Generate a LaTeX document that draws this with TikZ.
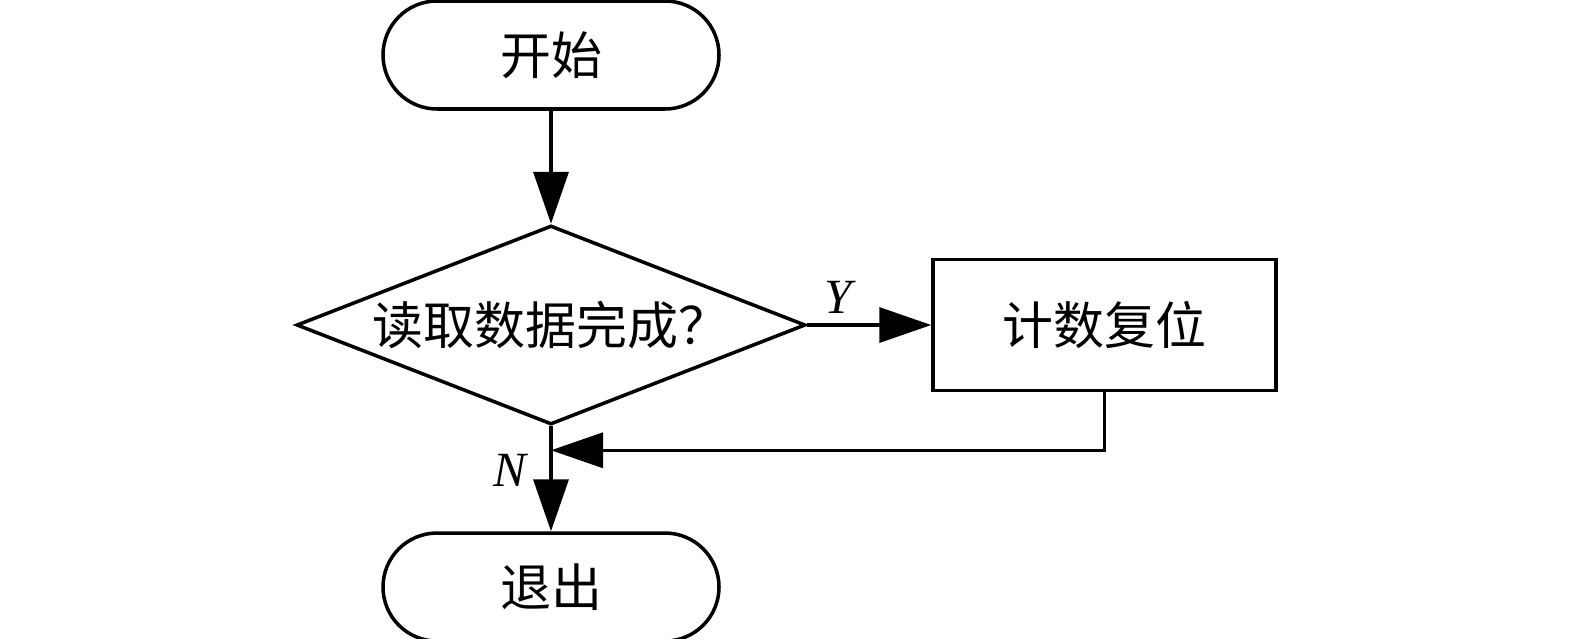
\documentclass[tikz,border=0pt]{standalone}
\usepackage{fontspec}
\setmainfont{Liberation Serif}
\newfontfamily\cjk{Noto Sans CJK SC}
\usepackage{tikz}
\usetikzlibrary{positioning,arrows.meta,shapes.geometric}

\begin{document}
\begin{tikzpicture}[
line width=2pt,
font=\cjk\fontsize{29}{34}\selectfont,
term/.style={draw, rounded corners=1.08cm, minimum width=6.72cm, minimum height=2.16cm, inner sep=0pt},
decide/.style={draw, diamond, shape aspect=2.56, minimum width=10.18cm, minimum height=3.98cm, inner sep=0pt},
proc/.style={draw, rectangle, minimum width=6.86cm, minimum height=2.62cm, inner sep=0pt},
lbl/.style={font=\fontsize{28}{32}\selectfont\itshape, inner sep=0pt},
arr/.style={-{Triangle[length=1.04cm, width=0.7cm]}}
]
\useasboundingbox (0,0) rectangle (31.5,-12.76);

\node[term] (start) at (11.02,-1.10) {开始};
\node[decide, below=2.26cm of start] (dec) {读取数据完成？};
\node[proc, right=2.48cm of dec] (reset) {计数复位};
\node[term, below=2.1cm of dec] (quit) {退出};

\coordinate[below=1.16cm of reset.south] (fb);
\coordinate (join) at (fb -| dec.south);

\node[lbl, above right=0.2cm and 0.3cm of dec.east] (ylab) {Y};
\node[lbl, below left=0.05cm and 0.45cm of join] (nlab) {N};

\draw[arr] (start) -- (dec);
\draw[arr] (dec) -- (reset);
\draw[arr] (dec) -- (quit);
\draw[arr] (reset.south) -- (fb) -- (join);
\end{tikzpicture}
\end{document}
